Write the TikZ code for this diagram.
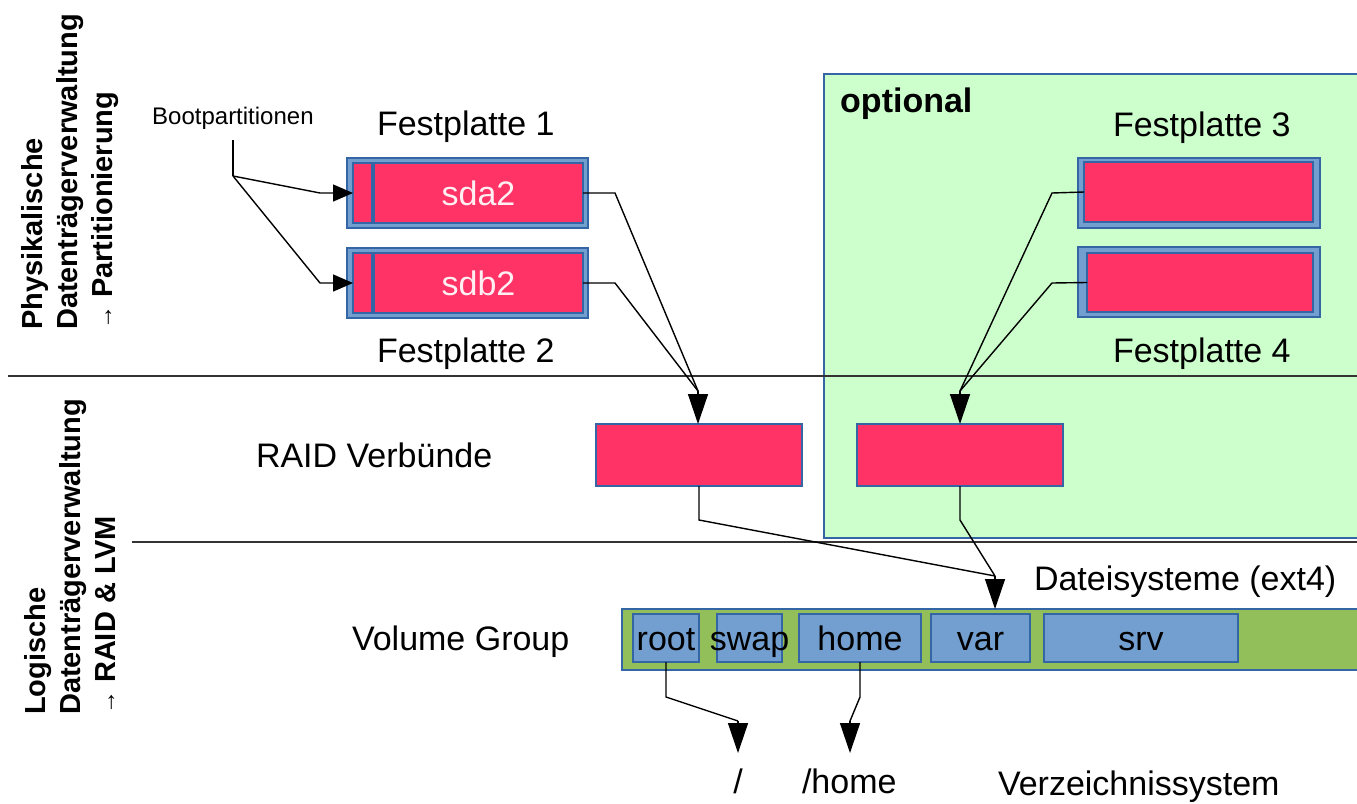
\documentclass[tikz,border=0pt]{standalone}
\usepackage{fontspec}
\setmainfont{Liberation Sans}
\usetikzlibrary{arrows.meta}
\definecolor{partred}{HTML}{FF3366}
\definecolor{diskblue}{HTML}{729FCF}
\definecolor{edgeblue}{HTML}{3465A4}
\definecolor{optgreen}{HTML}{CCFFCC}
\definecolor{vggreen}{HTML}{92BF5A}
\definecolor{parttext}{HTML}{FFEEF2}
\definecolor{sepgray}{HTML}{333333}
\begin{document}
\begin{tikzpicture}[x=1pt,y=-1pt,
  box/.style={draw=edgeblue, line width=1.2pt, inner sep=0pt, outer sep=0pt},
  disk/.style={box, fill=diskblue, minimum width=241pt, minimum height=70pt},
  part/.style={box, fill=partred, minimum height=60pt},
  raid/.style={box, fill=partred, minimum width=206pt, minimum height=62pt},
  lv/.style={box, fill=diskblue, minimum height=48pt, text height=24pt, text depth=0pt, font=\fontsize{34}{40}\selectfont},
  lbl/.style={inner sep=0pt, outer sep=0pt, anchor=base west, font=\fontsize{34}{40}\selectfont},
  side/.style={rotate=90, align=left, inner sep=0pt, font=\fontsize{29}{35}\selectfont\bfseries},
  conn/.style={line width=1.4pt, black},
  tip/.style={conn, -{Triangle[length=30pt,width=20pt]}},
  smalltip/.style={conn, -{Triangle[length=20pt,width=17pt]}},
  sep/.style={line width=1.5pt, sepgray},
]
\clip (0,0) rectangle (1357,803);

% optional area
\fill[optgreen] (824,74) rectangle (1370,538);
\draw[edgeblue, line width=1.2pt] (1370,74) -- (824,74) -- (824,538) -- (1370,538);
\node[inner sep=0pt, anchor=base west, font=\fontsize{34}{40}\selectfont\bfseries] (opt) at (840,112) {optional};

% separators
\draw[sep] (8,376) -- (1357,376);
\draw[sep] (132,542) -- (1357,542);

% side labels
\node[side] (phys) at (70,172) {Physikalische\\Datenträgerverwaltung\\{\fontsize{24}{24}\selectfont\mdseries →} Partitionierung};
\node[side] (logi) at (70,557) {Logische\\Datenträgerverwaltung\\{\fontsize{24}{24}\selectfont\mdseries →} RAID \& LVM};

% disks 1 and 2
\node[disk] (d1) at (467.5,193) {};
\node[part, minimum width=19pt] (sda1) at (362.5,193) {};
\node[part, minimum width=209pt, text=parttext, font=\fontsize{34}{40}\selectfont] (sda2) at (478.5,193) {sda2};
\node[disk] (d2) at (467.5,283) {};
\node[part, minimum width=19pt] (sdb1) at (362.5,283) {};
\node[part, minimum width=209pt, text=parttext, font=\fontsize{34}{40}\selectfont] (sdb2) at (478.5,283) {sdb2};
\node[lbl] (f1) at (377,135) {Festplatte 1};
\node[lbl] (f2) at (377,362) {Festplatte 2};

% disks 3 and 4
\node[disk, minimum width=242pt] (d3) at (1199,193) {};
\node[part, minimum width=229pt] (sdc) at (1198.5,192) {};
\node[disk, minimum width=242pt] (d4) at (1199,282) {};
\node[part, minimum width=226pt, minimum height=59pt] (sdd) at (1200,282.5) {};
\node[lbl] (f3) at (1113,136) {Festplatte 3};
\node[lbl] (f4) at (1113,362) {Festplatte 4};

% boot partitions label
\node[inner sep=0pt, anchor=base west, font=\fontsize{24}{28}\selectfont] (boot) at (152,124) {Bootpartitionen};
\coordinate (bptop) at (233,140);
\coordinate (bpj) at (233,176);
\draw[conn] (bptop) -- (bpj);
\draw[smalltip] (bpj) -- (320,193) -- (sda1.west);
\draw[smalltip] (bpj) -- (320,283) -- (sdb1.west);

% RAID
\node[lbl] (raidlbl) at (256,467) {RAID Verbünde};
\node[raid] (r1) at (699,455) {};
\node[raid] (r2) at (960,455) {};

\coordinate (m1) at (698,391);
\draw[conn] (sda2.east) -- (615,193) -- (m1);
\draw[conn] (sdb2.east) -- (615,283) -- (m1);
\draw[tip] (m1) -- (r1.north -| m1);

\coordinate (m2) at (960,391);
\draw[conn] (sdc.west) -- (1052,193) -- (m2);
\draw[conn] (sdd.west) -- (1052,283) -- (m2);
\draw[tip] (m2) -- (r2.north);

% volume group
\node[lbl] (vglbl) at (352,650) {Volume Group};
\node[box, fill=vggreen, minimum width=748pt, minimum height=61pt] (vg) at (996,639.5) {};
\node[lv, minimum width=66pt] (root) at (666,638) {root};
\node[lv, minimum width=65pt] (swap) at (749.5,638) {};
\node[inner sep=0pt, anchor=base, font=\fontsize{34}{40}\selectfont] (swapt) at (749.5,650) {swap};
\node[lv, minimum width=122pt] (home) at (860,638) {home};
\node[lv, minimum width=99pt] (var) at (980.5,638) {var};
\node[lv, minimum width=194pt] (srv) at (1141,638) {srv};

\node[lbl] (fs) at (1034,590) {Dateisysteme (ext4)};

\coordinate (m3) at (995,576);
\draw[conn] (r1.south) -- (699,520) -- (m3);
\draw[conn] (r2.south) -- (960,520) -- (m3);
\draw[tip] (m3) -- (vg.north -| m3);

% directory system
\coordinate (m4) at (738,721);
\coordinate (e4) at (738,753);
\coordinate (m5) at (850,721);
\coordinate (e5) at (850,753);
\draw[conn] (root.south) -- (666,697) -- (m4);
\draw[tip] (m4) -- (e4);
\draw[conn] (home.south) -- (860,697) -- (m5);
\draw[tip] (m5) -- (e5);
\node[inner sep=0pt, anchor=base, font=\fontsize{34}{40}\selectfont] (slash) at (738,793) {/};
\node[lbl] (homedir) at (802,793) {/home};
\node[lbl] (vz) at (998,795) {Verzeichnissystem};
\end{tikzpicture}
\end{document}
